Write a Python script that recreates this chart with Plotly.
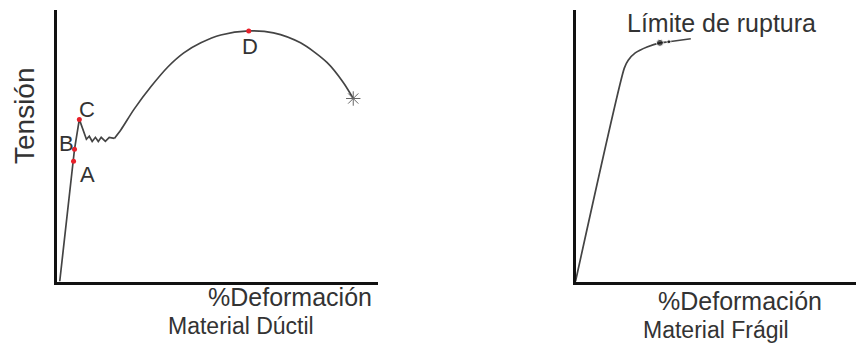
import plotly.graph_objects as go

# ---------------- data ----------------
# Ductile material: strain (%) vs stress (arbitrary units)
ductile_elastic_x = [1.0, 5.3, 5.6, 7.1, 9.3, 10.2, 11.1, 12.1, 13.0, 13.9, 15.2, 16.4, 18.0]
ductile_elastic_y = [0.0, 44.3, 48.7, 59.7, 52.4, 53.5, 51.6, 53.1, 51.6, 53.1, 51.6, 53.1, 52.7]
ductile_plastic_x = [18.0, 20.1, 24.1, 29.4, 34.7, 39.6, 44.9, 51.1, 59.8, 67.5, 75.9, 84.2, 89.2, 92.3]
ductile_plastic_y = [52.7, 56.0, 63.4, 71.8, 79.1, 84.2, 87.9, 90.8, 92.3, 91.6, 87.9, 80.6, 73.3, 67.4]
point_labels = ["A", "B", "C", "D"]
point_x = [5.3, 5.6, 7.1, 59.8]
point_y = [44.3, 48.7, 59.7, 92.3]
rupture_x = [92.3]
rupture_y = [67.4]

# Brittle material
brittle_x = [0.0, 17.4, 18.8, 21.3, 25.5, 30.1, 33.3, 41.1]
brittle_y = [0.0, 78.6, 81.5, 84.2, 86.4, 87.9, 88.3, 89.4]
brittle_dot_x = [30.1, 33.3]
brittle_dot_y = [87.9, 88.3]

# ---------------- layout helpers ----------------
W, H = 856, 360
def px(xp):
    return xp / W
def py(yp):
    return 1 - yp / H

FONT = "Liberation Sans, Arial, sans-serif"
TXT = "#333333"
LINE = "#444444"

fig = go.Figure()

fig.add_trace(go.Scatter(x=ductile_elastic_x, y=ductile_elastic_y, mode="lines",
                         line=dict(color=LINE, width=1.7), xaxis="x", yaxis="y",
                         showlegend=False, hoverinfo="skip"))
fig.add_trace(go.Scatter(x=ductile_plastic_x, y=ductile_plastic_y, mode="lines",
                         line=dict(color=LINE, width=1.7, shape="spline", smoothing=0.8),
                         xaxis="x", yaxis="y", showlegend=False, hoverinfo="skip"))
fig.add_trace(go.Scatter(x=point_x, y=point_y, mode="markers",
                         marker=dict(color="#e8202a", size=5), xaxis="x", yaxis="y",
                         showlegend=False, hoverinfo="skip"))
fig.add_trace(go.Scatter(x=rupture_x, y=rupture_y, mode="markers",
                         marker=dict(symbol="asterisk-open", color="#666666", size=12,
                                     line=dict(color="#666666", width=1.0)),
                         xaxis="x", yaxis="y", showlegend=False, hoverinfo="skip"))

fig.add_trace(go.Scatter(x=brittle_x, y=brittle_y, mode="lines",
                         line=dict(color=LINE, width=1.7, shape="spline", smoothing=0.6),
                         xaxis="x2", yaxis="y2", showlegend=False, hoverinfo="skip"))
fig.add_trace(go.Scatter(x=brittle_dot_x, y=brittle_dot_y, mode="markers",
                         marker=dict(color="#111111", size=[7, 4]),
                         xaxis="x2", yaxis="y2", showlegend=False, hoverinfo="skip"))

axis_common = dict(showgrid=False, zeroline=False, showticklabels=False, ticks="",
                   showline=True, linecolor="#111111", linewidth=3, fixedrange=True)

ydom = [py(281.5), py(10)]
fig.update_layout(
    width=W, height=H,
    margin=dict(l=0, r=0, t=0, b=0),
    paper_bgcolor="white", plot_bgcolor="white",
    xaxis=dict(domain=[px(56.5), px(378)], range=[0, 100], anchor="y", **axis_common),
    yaxis=dict(domain=ydom, range=[0, 100], anchor="x", **axis_common),
    xaxis2=dict(domain=[px(575.5), px(856)], range=[0, 100], anchor="y2", **axis_common),
    yaxis2=dict(domain=ydom, range=[0, 100], anchor="x2", **axis_common),
)

# point letter labels (data coordinates, offset in pixels)
label_offsets = {"A": (14, -13), "B": (-8, 6), "C": (8, 10), "D": (1, -16)}
for lab, xv, yv in zip(point_labels, point_x, point_y):
    dx, dy = label_offsets[lab]
    fig.add_annotation(x=xv, y=yv, xref="x", yref="y", text=lab, showarrow=False,
                       xshift=dx, yshift=dy, font=dict(family=FONT, size=22, color=TXT))

def paper_text(text, xp, yp, size, angle=0):
    fig.add_annotation(x=px(xp), y=py(yp), xref="paper", yref="paper", text=text,
                       showarrow=False, textangle=angle, xanchor="center", yanchor="middle",
                       font=dict(family=FONT, size=size, color=TXT))

paper_text("Tensión", 25, 116, 28, angle=-90)
paper_text("%Deformación", 290, 297, 25)
paper_text("Material Dúctil", 241, 326, 23)
paper_text("%Deformación", 740, 301, 25)
paper_text("Material Frágil", 716, 330, 23)
paper_text("Límite de ruptura", 721, 23, 25)

fig.write_html("out.html", config={"displayModeBar": False},
               post_script="document.body.style.margin='0';document.body.style.overflow='hidden';")
